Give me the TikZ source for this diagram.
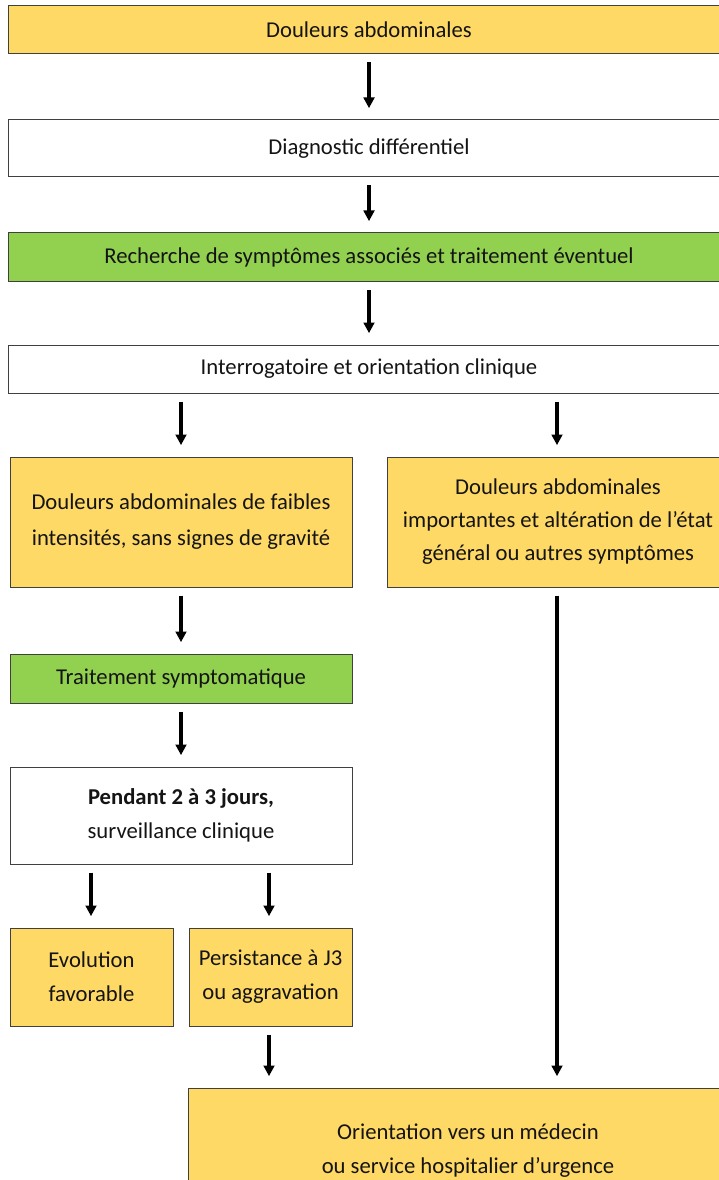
\documentclass[tikz,border=0pt]{standalone}
\usepackage{fontspec}
\setmainfont{Carlito}
\usetikzlibrary{arrows.meta}
\definecolor{boxyellow}{HTML}{FFD966}
\definecolor{boxgreen}{HTML}{92D050}
\definecolor{boxline}{HTML}{404040}
\tikzset{
  box/.style={draw=boxline, line width=0.75pt, rectangle, inner sep=0pt, align=center,
    font=\fontsize{17}{25.5}\selectfont, text=black!92},
  ybox/.style={box, fill=boxyellow},
  gbox/.style={box, fill=boxgreen},
  wbox/.style={box, fill=white},
  arr/.style={line width=2.3pt, -{Triangle[width=8pt,length=8pt]}, shorten <=6pt, shorten >=8.5pt}
}
\begin{document}
\begin{tikzpicture}[x=0.75pt,y=-0.75pt]
\useasboundingbox[fill=white] (0,0) rectangle (718,1180);
\node[ybox, minimum width=722*0.75pt, minimum height=48*0.75pt] (b1) at (369,30) {Douleurs abdominales};
\node[wbox, minimum width=722*0.75pt, minimum height=57*0.75pt] (b2) at (369,148.5) {Diagnostic différentiel};
\node[gbox, minimum width=722*0.75pt, minimum height=49*0.75pt] (b3) at (369,257.5) {Recherche de symptômes associés et traitement éventuel};
\node[wbox, minimum width=722*0.75pt, minimum height=48*0.75pt] (b4) at (369,369) {Interrogatoire et orientation clinique};
\node[ybox, minimum width=342*0.75pt, minimum height=130*0.75pt, font=\fontsize{17}{27}\selectfont] (b5) at (181,522) {Douleurs abdominales de faibles\\intensités, sans signes de gravité};
\node[ybox, minimum width=342*0.75pt, minimum height=130*0.75pt, font=\fontsize{17}{24.8}\selectfont] (b6) at (558,522) {Douleurs abdominales\\importantes et altération de l’état\\général ou autres symptômes};
\node[gbox, minimum width=342*0.75pt, minimum height=49*0.75pt] (b7) at (181,678.5) {Traitement symptomatique};
\node[wbox, minimum width=342*0.75pt, minimum height=97*0.75pt] (b8) at (181,815.5) {\textbf{Pendant 2 à 3 jours,}\\surveillance clinique};
\node[ybox, minimum width=163*0.75pt, minimum height=98*0.75pt] (b9) at (91.5,977) {Evolution\\favorable};
\node[ybox, minimum width=163*0.75pt, minimum height=98*0.75pt] (b10) at (270.5,977) {Persistance à J3\\ou aggravation};
\node[ybox, minimum width=560*0.75pt, minimum height=126*0.75pt] (b11) at (468,1151) {Orientation vers un médecin\\ou service hospitalier d’urgence};
\coordinate (xc) at (369,0);
\coordinate (xl) at (181,0);
\coordinate (xr) at (557,0);
\coordinate (xa) at (91,0);
\coordinate (xb) at (269,0);
\draw[arr] (b1.south -| xc) -- (b2.north -| xc);
\draw[arr] (b2.south -| xc) -- (b3.north -| xc);
\draw[arr] (b3.south -| xc) -- (b4.north -| xc);
\draw[arr] (b4.south -| xl) -- (b5.north -| xl);
\draw[arr] (b4.south -| xr) -- (b6.north -| xr);
\draw[arr] (b5.south -| xl) -- (b7.north -| xl);
\draw[arr] (b7.south -| xl) -- (b8.north -| xl);
\draw[arr] (b8.south -| xa) -- (b9.north -| xa);
\draw[arr] (b8.south -| xb) -- (b10.north -| xb);
\draw[arr] (b10.south -| xb) -- (b11.north -| xb);
\draw[arr] (b6.south -| xr) -- (b11.north -| xr);
\end{tikzpicture}
\end{document}
